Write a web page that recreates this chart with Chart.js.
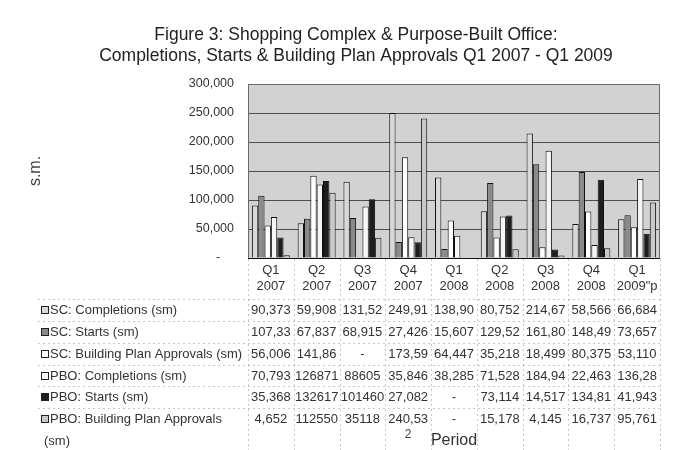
<!DOCTYPE html>
<html>
<head>
<meta charset="utf-8">
<script src="https://cdn.jsdelivr.net/npm/chart.js@4.4.1/dist/chart.umd.min.js"></script>
<style>
  html, body { margin: 0; padding: 0; background: #ffffff; }
  #wrap { width: 685px; height: 450px; position: relative; }
</style>
</head>
<body>
<div id="wrap"><canvas id="chart" width="685" height="450"></canvas></div>
<script>
// Quarterly periods shown on the category axis
const categories = [
  ['Q1', '2007'], ['Q2', '2007'], ['Q3', '2007'], ['Q4', '2007'],
  ['Q1', '2008'], ['Q2', '2008'], ['Q3', '2008'], ['Q4', '2008'],
  ['Q1', '2009"p']
];

// Floor space in square metres (null = no figure, shown as "-")
const scCompletions = [90373, 59908, 131520, 249910, 138900, 80752, 214670, 58566, 66684];
const scStarts      = [107330, 67837, 68915, 27426, 15607, 129520, 161800, 148490, 73657];
const scApprovals   = [56006, 141860, null, 173590, 64447, 35218, 18499, 80375, 53110];
const pboCompletions = [70793, 126871, 88605, 35846, 38285, 71528, 184940, 22463, 136280];
const pboStarts      = [35368, 132617, 101460, 27082, null, 73114, 14517, 134810, 41943];
const pboApprovals   = [4652, 112550, 35118, 240530, null, 15178, 4145, 16737, 95761];

const seriesNames = [
  'SC: Completions (sm)',
  'SC: Starts (sm)',
  'SC: Building Plan Approvals (sm)',
  'PBO: Completions (sm)',
  'PBO: Starts (sm)',
  'PBO: Building Plan Approvals (sm)'
];

// Table columns whose cells carry no thousands separator
const plainColumnsPBO = [1, 2];

const yTicks = [0, 50000, 100000, 150000, 200000, 250000, 300000];

const FONT = "'Liberation Sans', Arial, sans-serif";
const TEXT = '#333333';

const seriesStyles = [
  { fill: '#d8d8d8', plain: [] },
  { fill: '#8a8a8a', plain: [] },
  { fill: '#ffffff', plain: [] },
  { fill: '#f6f6f6', plain: plainColumnsPBO },
  { fill: '#1e1e1e', plain: plainColumnsPBO },
  { fill: '#c9c9c9', plain: plainColumnsPBO }
];
const seriesValues = [scCompletions, scStarts, scApprovals, pboCompletions, pboStarts, pboApprovals];

// Cell text in the data table: comma grouping, cut to the column width
function cellText(v, col, style) {
  if (v === null) return '-';
  if (style.plain.includes(col)) return String(v);
  return v.toLocaleString('en-US').slice(0, 6);
}

const plotBackground = {
  id: 'plotBackground',
  beforeDraw(chart) {
    const { ctx, chartArea: a } = chart;
    ctx.save();
    ctx.fillStyle = '#d2d2d2';
    ctx.fillRect(a.left, a.top, a.right - a.left, a.bottom - a.top);
    ctx.restore();
  },
  afterDatasetsDraw(chart) {
    const { ctx, chartArea: a } = chart;
    ctx.save();
    ctx.strokeStyle = '#6a6a6a';
    ctx.lineWidth = 1;
    ctx.strokeRect(a.left + 0.5, a.top + 0.5, a.right - a.left - 1, a.bottom - a.top);
    ctx.strokeStyle = '#111111';
    ctx.beginPath();
    ctx.moveTo(a.left, Math.round(a.bottom) + 0.5);
    ctx.lineTo(a.right, Math.round(a.bottom) + 0.5);
    ctx.stroke();
    ctx.restore();
  }
};

const titleAndTable = {
  id: 'titleAndTable',
  afterDraw(chart) {
    const { ctx, chartArea: a } = chart;
    const x = chart.scales.x;
    ctx.save();

    // Heading
    ctx.fillStyle = '#222222';
    ctx.font = '17.5px ' + FONT;
    ctx.textAlign = 'center';
    ctx.textBaseline = 'middle';
    ctx.fillText('Figure 3: Shopping Complex & Purpose-Built Office:', 356, 35);
    ctx.fillText('Completions, Starts & Building Plan Approvals Q1 2007 - Q1 2009', 356, 56);

    // Data table grid
    const n = categories.length;
    const colW = (a.right - a.left) / n;
    const rowY = [310, 332, 354, 376, 397, 419];
    ctx.strokeStyle = 'rgba(0,0,0,0.22)';
    ctx.lineWidth = 1;
    ctx.setLineDash([2, 3]);
    for (let i = 0; i <= n; i++) {
      const gx = Math.round(a.left + i * colW) + 0.5;
      ctx.beginPath();
      ctx.moveTo(gx, a.bottom + 1);
      ctx.lineTo(gx, 450);
      ctx.stroke();
    }
    [299, 321, 343, 365, 386, 408].forEach(gy => {
      ctx.beginPath();
      ctx.moveTo(38, gy + 0.5);
      ctx.lineTo(a.right, gy + 0.5);
      ctx.stroke();
    });
    ctx.setLineDash([]);

    // Row headers with their legend keys
    ctx.font = '13px ' + FONT;
    ctx.textBaseline = 'middle';
    seriesNames.forEach((name, r) => {
      const y = rowY[r];
      ctx.fillStyle = seriesStyles[r].fill;
      ctx.fillRect(41, y - 4, 8, 8);
      ctx.strokeStyle = '#222222';
      ctx.strokeRect(41.5, y - 3.5, 7, 7);
      ctx.fillStyle = TEXT;
      ctx.textAlign = 'left';
      if (r === 5) {
        ctx.fillText('PBO: Building Plan Approvals', 50, y);
        ctx.fillText('(sm)', 44, y + 22);
      } else {
        ctx.fillText(name, 50, y);
      }
      ctx.textAlign = 'center';
      seriesValues[r].forEach((v, c) => {
        ctx.fillText(cellText(v, c, seriesStyles[r]), x.getPixelForValue(c), y);
      });
    });

    // Page number
    ctx.fillStyle = '#444444';
    ctx.font = '12px ' + FONT;
    ctx.fillText('2', 408, 435);
    ctx.restore();
  }
};

new Chart(document.getElementById('chart'), {
  type: 'bar',
  data: {
    labels: categories,
    datasets: seriesNames.map((name, i) => ({
      label: name,
      data: seriesValues[i],
      backgroundColor: seriesStyles[i].fill,
      borderColor: '#111111',
      borderWidth: 1,
      borderSkipped: 'bottom',
      categoryPercentage: 0.83,
      barPercentage: 1.0
    }))
  },
  options: {
    responsive: false,
    animation: false,
    devicePixelRatio: 1,
    layout: { padding: { top: 84, left: 0, right: 25, bottom: 0 } },
    plugins: {
      legend: { display: false },
      title: { display: false },
      tooltip: { enabled: false }
    },
    scales: {
      x: {
        grid: { display: false, drawTicks: false },
        border: { display: false },
        ticks: {
          color: TEXT,
          font: { family: FONT, size: 13, lineHeight: 1.25 },
          padding: 4,
          maxRotation: 0,
          autoSkip: false
        },
        title: {
          display: true,
          text: 'Period',
          color: TEXT,
          font: { family: FONT, size: 16 },
          padding: { top: 0, bottom: 0 }
        },
        afterFit(scale) { scale.height = 450 - 258; }
      },
      y: {
        min: 0,
        max: 300000,
        afterBuildTicks(scale) { scale.ticks = yTicks.map(v => ({ value: v })); },
        grid: { color: '#4d4d4d', lineWidth: 1, drawTicks: false },
        border: { display: false },
        ticks: {
          color: TEXT,
          font: { family: FONT, size: 12.5 },
          padding: 14,
          callback: v => (v === 0 ? '-    ' : v.toLocaleString('en-US'))
        },
        title: {
          display: true,
          text: 's.m.',
          color: '#444444',
          font: { family: FONT, size: 16 },
          padding: { top: 26, bottom: 0 }
        },
        afterFit(scale) { scale.width = 248; }
      }
    }
  },
  plugins: [plotBackground, titleAndTable]
});
</script>
</body>
</html>
